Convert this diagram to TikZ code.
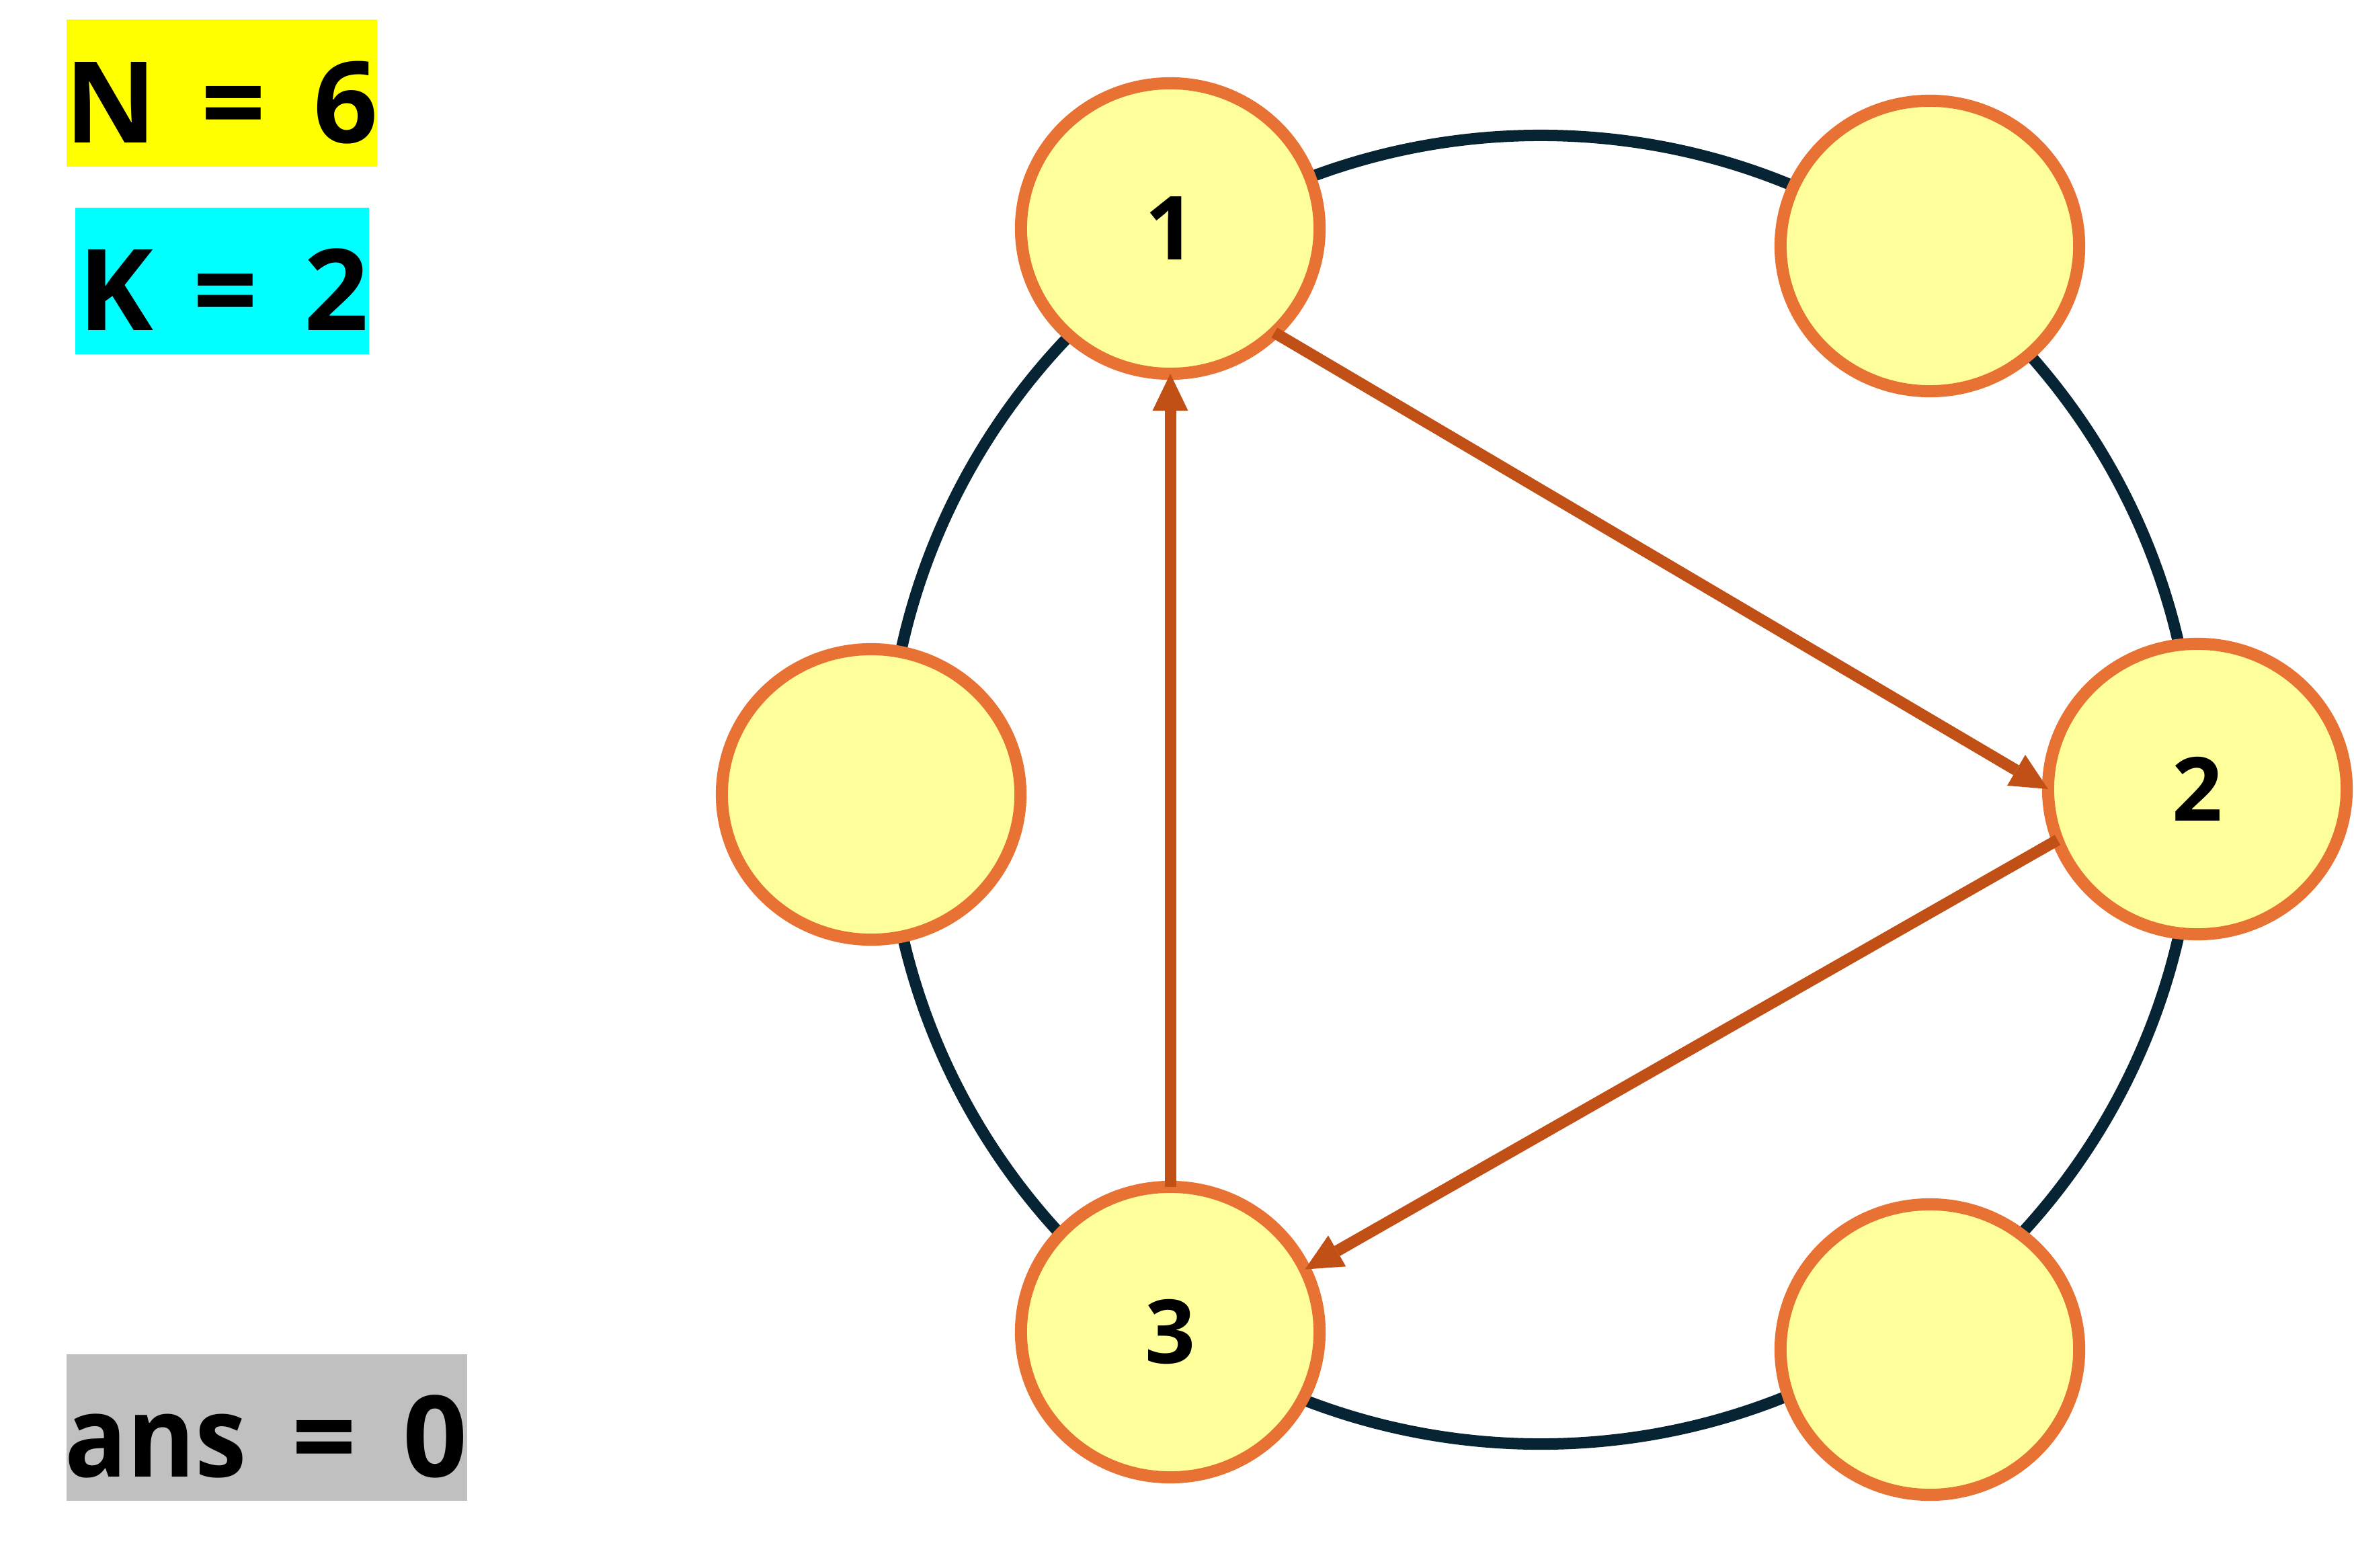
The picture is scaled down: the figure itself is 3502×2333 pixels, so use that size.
\documentclass[tikz,border=0pt]{standalone}
\usepackage{graphicx}
\usepackage{fontspec}
\setmainfont{Open Sans}
\usetikzlibrary{shapes.geometric,arrows.meta}

\definecolor{nodefill}{RGB}{254,254,154}
\definecolor{nodeline}{RGB}{232,114,52}
\definecolor{edgecol}{RGB}{192,80,22}
\definecolor{ringcol}{RGB}{6,36,51}
\definecolor{boxyellow}{RGB}{255,255,0}
\definecolor{boxcyan}{RGB}{0,255,255}
\definecolor{boxgray}{RGB}{192,192,192}

% one glyph centred on the current point, taking no width
\newcommand{\cell}[1]{\makebox[0pt][c]{#1}}

\begin{document}
\begin{tikzpicture}[x=0.01cm,y=-0.01cm,
  vtx/.style={ellipse, draw=nodeline, fill=nodefill, line width=0.18cm,
    minimum width=4.44cm, minimum height=4.32cm, inner sep=0pt, outer sep=0pt,
    font=\fontsize{37.4}{40}\selectfont\bfseries},
  ringline/.style={draw=ringcol, line width=0.17cm},
  arc/.style={draw=edgecol, line width=0.17cm,
    -{Triangle[length=0.55cm,width=0.53cm,line width=0pt]}},
  valbox/.style={rectangle, inner sep=0pt, outer sep=0pt,
    minimum height=2.185cm, text height=1.83cm, text depth=0.355cm,
    font=\fontsize{47.8}{50}\selectfont\bfseries}]
\useasboundingbox (0,0) rectangle (3502,2333);

% the cycle through all vertices
\draw[ringline] (2292,1175) circle[radius=9.73cm];

% vertices
\node[vtx] (v1)  at (1741,340)  {1};
\node[vtx] (vtr) at (2871,366)  {};
\node[vtx] (v2)  at (3269,1174) {2};
\node[vtx] (vbr) at (2871,2008) {};
\node[vtx] (v3)  at (1741,1982) {3};
\node[vtx] (vl)  at (1296,1182) {};

% directed edges
\draw[arc] (v1.-45) -- (v2.west);
\draw[arc] (v2.200) -- (v3.25);
\draw[arc] (v3.north) -- (v1.south);

% value boxes
\node[valbox, fill=boxyellow, minimum width=4.62cm] (nval) at (330,138.5)
  {\hspace{0.66cm}\cell{N}\hspace{1.83cm}\cell{=}\hspace{1.665cm}\cell{6}\hspace{0.465cm}\null};
\node[valbox, fill=boxcyan, minimum width=4.37cm] (kval) at (330.5,418)
  {\hspace{0.605cm}\cell{K}\hspace{1.635cm}\cell{=}\hspace{1.645cm}\cell{2}\hspace{0.485cm}\null};
\node[valbox, fill=boxgray, minimum width=5.96cm] (ansval) at (397,2124)
  {\hspace{1.325cm}\cell{\scalebox{0.915}[1]{ans}}\hspace{2.505cm}\cell{=}\hspace{1.655cm}\cell{0}\hspace{0.475cm}\null};
\end{tikzpicture}
\end{document}
